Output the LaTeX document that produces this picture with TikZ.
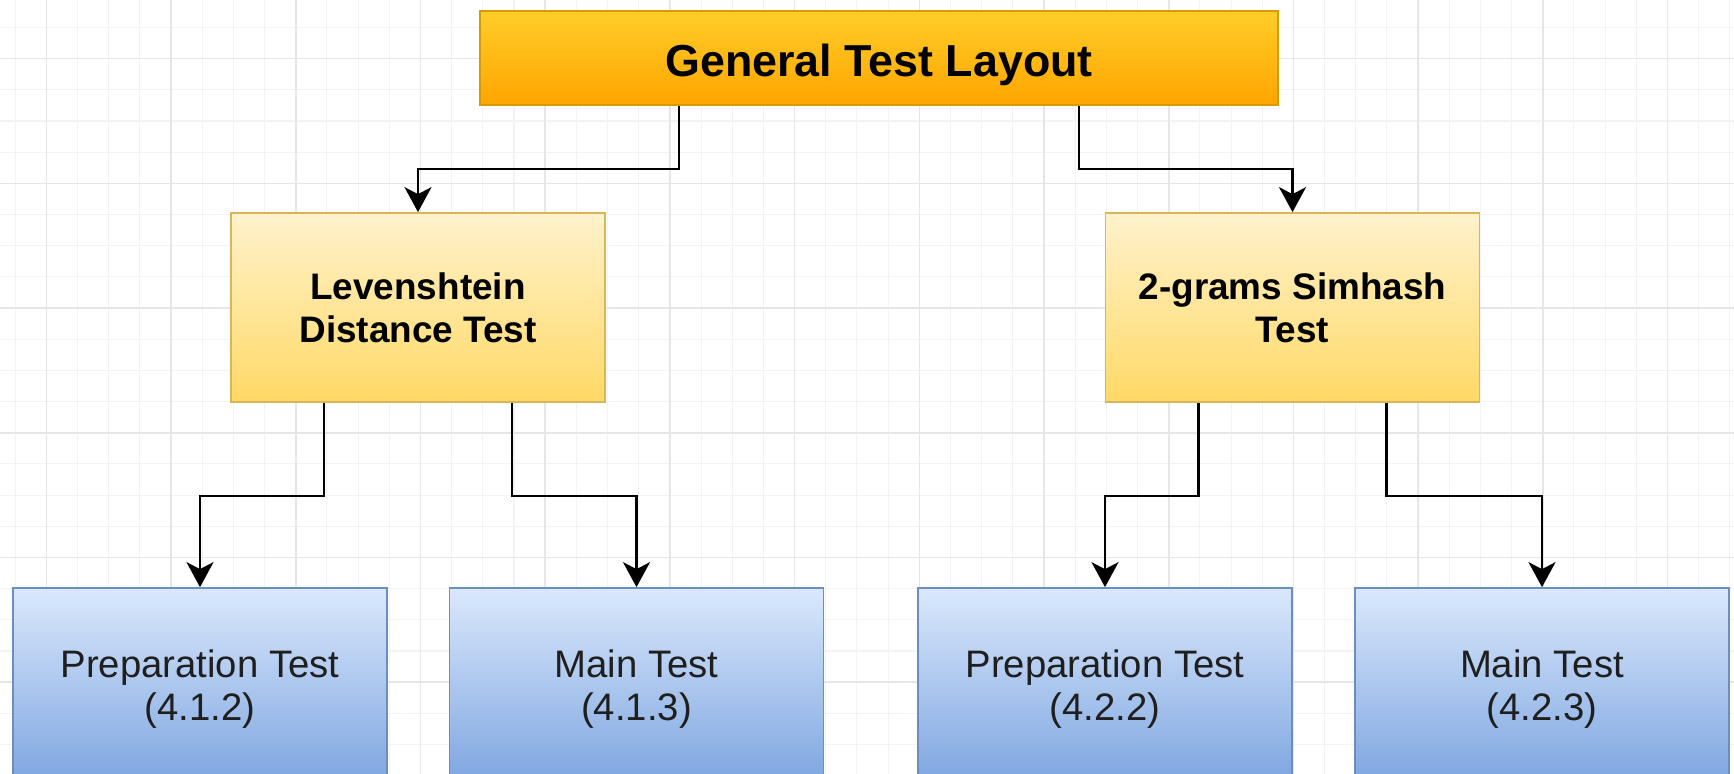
\documentclass[tikz,border=0pt]{standalone}
\usepackage{fontspec}
\setmainfont{Liberation Sans}
\usetikzlibrary{arrows.meta,calc}
\definecolor{topfillA}{HTML}{FFCD28}
\definecolor{topfillB}{HTML}{FFA500}
\definecolor{topline}{HTML}{D79B00}
\definecolor{midfillA}{HTML}{FFF2CC}
\definecolor{midfillB}{HTML}{FFD966}
\definecolor{midline}{HTML}{D6B656}
\definecolor{leaffillA}{HTML}{DAE8FC}
\definecolor{leaffillB}{HTML}{7EA6E0}
\definecolor{leafline}{HTML}{6C8EBF}
\definecolor{gridminor}{HTML}{F3F3F3}
\definecolor{gridmajor}{HTML}{E6E6E6}
\tikzset{
  topbox/.style={draw=topline, line width=1pt, top color=topfillA, bottom color=topfillB,
    minimum width=15.96cm, minimum height=1.88cm, inner sep=0pt, align=center,
    text height=21pt, text depth=0pt,
    font=\bfseries\fontsize{25.5}{30}\selectfont},
  midbox/.style={draw=midline, line width=1pt, top color=midfillA, bottom color=midfillB,
    minimum width=7.48cm, minimum height=3.78cm, inner sep=0pt, align=center,
    font=\bfseries\fontsize{21}{24.6}\selectfont},
  leafbox/.style={draw=leafline, line width=1pt, top color=leaffillA, bottom color=leaffillB,
    minimum width=7.48cm, minimum height=3.88cm, inner sep=0pt, align=center,
    text depth=0pt,
    text=black!88, font=\fontsize{21.8}{24.6}\selectfont},
  conn/.style={draw=black, line width=1.4pt, -{Stealth[length=0.5cm,width=0.54cm,inset=0.14cm]}},
  minorline/.style={draw=gridminor, line width=0.6pt},
  majorline/.style={draw=gridmajor, line width=0.9pt}
}
\begin{document}
\begin{tikzpicture}[x=0.02cm,y=-0.02cm]
\useasboundingbox (0,0) rectangle (1734,774);
\clip (0,0) rectangle (1734,774);
\fill[white] (0,0) rectangle (1734,774);
% grid
\foreach \i in {0,...,55} {\draw[minorline] ({15.2+\i*31.175},0) -- ({15.2+\i*31.175},774);}
\foreach \i in {0,...,23} {\draw[minorline] (0,{27.5+\i*31.175}) -- (1734,{27.5+\i*31.175});}
\foreach \i in {0,...,13} {\draw[majorline] ({46.4+\i*124.7},0) -- ({46.4+\i*124.7},774);}
\foreach \i in {0,...,5} {\draw[majorline] (0,{58.7+\i*124.7}) -- (1734,{58.7+\i*124.7});}
% nodes
\node[topbox] (top) at (879,58) {General Test Layout};
\node[midbox] (lev) at (418,307.5) {Levenshtein\\Distance Test};
\node[midbox] (sim) at (1292.5,307.5) {2-grams Simhash\\Test};
\node[leafbox] (p1) at (200,685) {Preparation Test\\(4.1.2)};
\node[leafbox] (m1) at (636.5,685) {Main Test\\(4.1.3)};
\node[leafbox] (p2) at (1105,685) {Preparation Test\\(4.2.2)};
\node[leafbox] (m2) at (1542,685) {Main Test\\(4.2.3)};
% connectors
\draw[conn] ($(top.south west)!0.25!(top.south east)$) -- ++(0,63) -| (lev.north);
\draw[conn] ($(top.south west)!0.75!(top.south east)$) -- ++(0,63) -| (sim.north);
\draw[conn] ($(lev.south west)!0.25!(lev.south east)$) -- ++(0,93) -| (p1.north);
\draw[conn] ($(lev.south west)!0.75!(lev.south east)$) -- ++(0,93) -| (m1.north);
\draw[conn] ($(sim.south west)!0.25!(sim.south east)$) -- ++(0,93) -| (p2.north);
\draw[conn] ($(sim.south west)!0.75!(sim.south east)$) -- ++(0,93) -| (m2.north);
\end{tikzpicture}
\end{document}
